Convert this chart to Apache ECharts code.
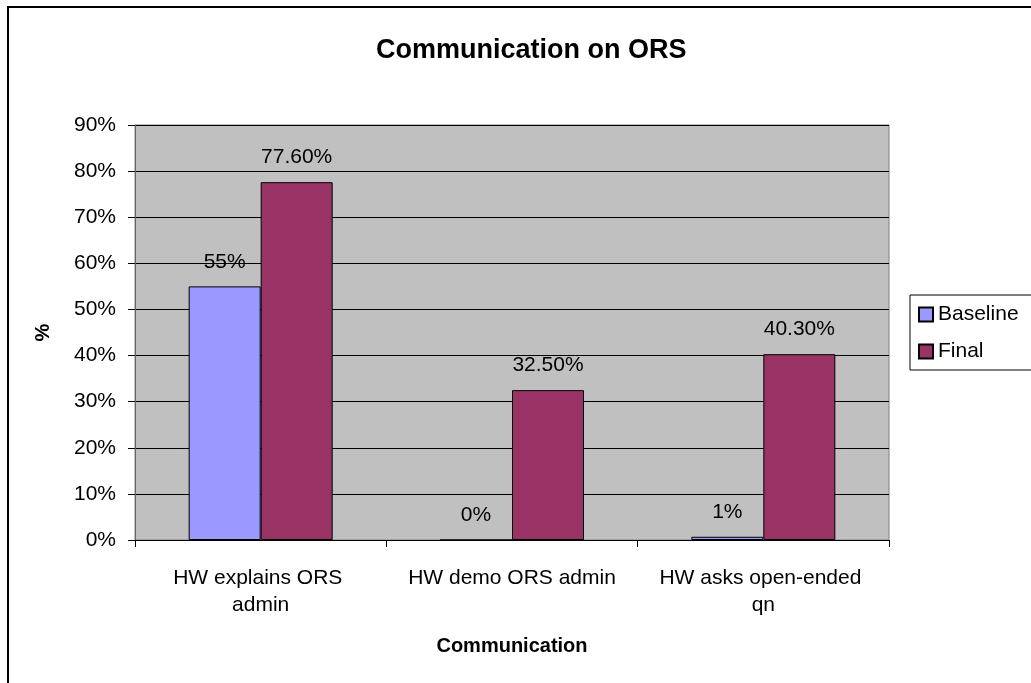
<!DOCTYPE html>
<html>
<head>
<meta charset="utf-8">
<title>Communication on ORS</title>
<style>
    html, body { margin: 0; padding: 0; background: #fff; overflow: hidden; }
    #chart { width: 1031px; height: 683px; }
</style>
<script src="https://cdn.jsdelivr.net/npm/echarts@6/dist/echarts.min.js"></script>
</head>
<body>
<div id="chart"></div>
<script>
var categories = ['HW explains ORS admin', 'HW demo ORS admin', 'HW asks open-ended qn'];
var baselineValues = [55, 0, 0.7];
var finalValues = [77.6, 32.5, 40.3];
var baselineLabels = ['55%', '0%', '1%'];
var finalLabels = ['77.60%', '32.50%', '40.30%'];
var yTicks = [0, 10, 20, 30, 40, 50, 60, 70, 80, 90];

(function (win) {
    var font = 'Liberation Sans, Arial, sans-serif',
        chart = echarts.init(document.getElementById('chart'));

    function labelFrom(list) {
        return function (p) {
            return list[p.dataIndex];
        };
    }

    function barLabel(list) {
        return {
            show: true,
            position: 'top',
            distance: 14,
            fontFamily: font,
            fontSize: 21,
            color: '#000',
            formatter: labelFrom(list)
        };
    }

    chart.setOption({
        animation: false,
        title: {
            text: 'Communication on ORS',
            left: 371,
            top: 32,
            textStyle: { fontFamily: font, fontSize: 27, fontWeight: 'bold', color: '#000' }
        },
        legend: {
            orient: 'vertical',
            left: 910,
            top: 295,
            padding: [9, 20, 8, 8],
            itemGap: 16,
            itemWidth: 14,
            itemHeight: 14,
            icon: 'rect',
            borderColor: '#000',
            borderWidth: 1,
            textStyle: { fontFamily: font, fontSize: 21, color: '#000' },
            data: ['Baseline', 'Final']
        },
        grid: {
            left: 135,
            right: 142,
            top: 125,
            bottom: 143,
            show: true,
            backgroundColor: '#C0C0C0',
            borderColor: '#808080',
            borderWidth: 1
        },
        xAxis: {
            type: 'category',
            data: categories,
            name: 'Communication',
            nameLocation: 'middle',
            nameGap: 96,
            nameTextStyle: { fontFamily: font, fontSize: 20, fontWeight: 'bold', color: '#000' },
            axisLine: { lineStyle: { color: '#000', width: 1 } },
            axisTick: { show: true, length: 7, lineStyle: { color: '#000' } },
            axisLabel: {
                fontFamily: font,
                fontSize: 21,
                color: '#000',
                margin: 25,
                lineHeight: 27,
                width: 220,
                overflow: 'break',
                interval: 0
            }
        },
        yAxis: {
            type: 'value',
            min: yTicks[0],
            max: yTicks[yTicks.length - 1],
            interval: 10,
            name: '%',
            nameLocation: 'middle',
            nameGap: 82,
            nameTextStyle: { fontFamily: font, fontSize: 20, fontWeight: 'bold', color: '#000' },
            axisLine: { show: true, lineStyle: { color: '#666', width: 1 } },
            axisTick: { show: true, length: 7, lineStyle: { color: '#000' } },
            axisLabel: {
                fontFamily: font,
                fontSize: 21,
                color: '#000',
                margin: 19,
                formatter: '{value}%'
            },
            splitLine: { lineStyle: { color: '#000', width: 1 } }
        },
        series: [
            {
                name: 'Baseline',
                type: 'bar',
                data: baselineValues,
                barWidth: 72,
                barGap: '0%',
                itemStyle: { color: '#9999FF', borderColor: '#000', borderWidth: 1 },
                label: barLabel(baselineLabels)
            },
            {
                name: 'Final',
                type: 'bar',
                data: finalValues,
                barWidth: 72,
                barGap: '0%',
                itemStyle: { color: '#993366', borderColor: '#000', borderWidth: 1 },
                label: barLabel(finalLabels)
            }
        ],
        //外框
        graphic: [
            {
                type: 'rect',
                silent: true,
                shape: { x: 8, y: 7, width: 1100, height: 800 },
                style: { fill: 'none', stroke: '#000', lineWidth: 2 }
            }
        ]
    });
})(this);
</script>
</body>
</html>
